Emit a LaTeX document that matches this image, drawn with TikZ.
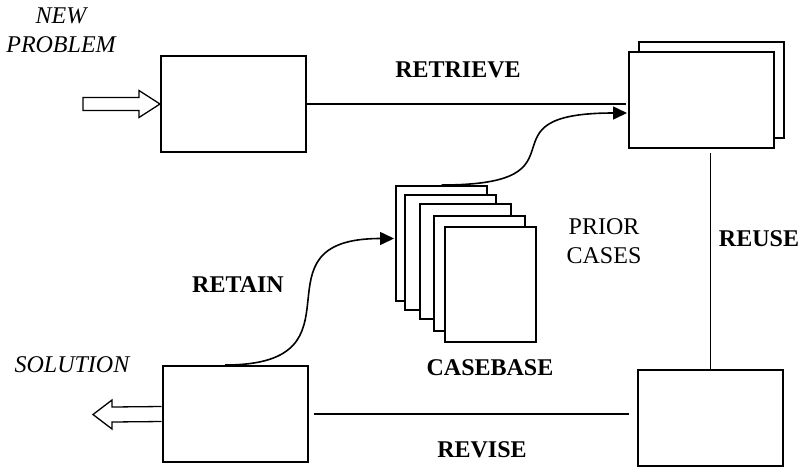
\documentclass[tikz,border=0pt,12pt]{standalone}
\usepackage{fontspec}
\setmainfont{Liberation Serif}
\usetikzlibrary{arrows.meta,calc}

\begin{document}
\begin{tikzpicture}[
  x=0.5pt, y=-0.5pt,
  stage/.style={draw,fill=white,line width=1pt,inner sep=0pt,
                minimum width=72.5pt,minimum height=48pt},
  card/.style={draw,fill=white,line width=1pt,inner sep=0pt,
               minimum width=45.5pt,minimum height=57.5pt},
  arr/.style={-{Triangle[length=7pt,width=6.5pt]},line width=0.8pt},
  link/.style={line width=0.8pt},
  hollow/.style={draw,fill=white,line width=0.65pt,line join=miter},
  steplbl/.style={font=\bfseries},
  note/.style={font=\itshape,align=center},
]
\useasboundingbox (0,0) rectangle (803,468);

%% ---- Stages of the cycle ---------------------------------------------------
\node[stage] (newcase) at (233.5,104) {};
\node[stage] (retrback) at (711.5,90) {};
\node[stage] (retrcase) at (701.5,100) {};
\node[stage] (solvcase) at (710.5,418) {};
\node[stage] (repcase) at (235,414) {};

%% ---- Case base: stack of cards ---------------------------------------------
\foreach \cx/\cy [count=\i] in {441.5/243.5, 450.5/252.5, 465.5/261.5, 479/273.5, 490/284.5}
  \node[card] (card\i) at (\cx,\cy) {};

%% ---- In and out (block arrows) --------------------------------------------
\coordinate (newtail) at (83,104);
\draw[hollow] ($(newtail)+(0,-6.5)$) -- ($(newcase.west)+(-21,-6.5)$)
  -- ($(newcase.west)+(-21,-13.5)$) -- (newcase.west)
  -- ($(newcase.west)+(-21,13.5)$) -- ($(newcase.west)+(-21,6.5)$)
  -- ($(newtail)+(0,6.5)$) -- cycle;

\coordinate (soltip) at (93,414.5);
\draw[hollow] ($(repcase.west)+(0,-7.5)$) -- ($(soltip)+(19,-7.5)$)
  -- ($(soltip)+(19,-14.5)$) -- (soltip)
  -- ($(soltip)+(19,14.5)$) -- ($(soltip)+(19,7.5)$)
  -- ($(repcase.west)+(0,7.5)$);

%% ---- Connectors ------------------------------------------------------------
\draw[link,shorten >=1pt] (newcase.east) -- (newcase.east -| retrcase.west);
\draw[arr] (card1.north) to[out=0,in=180,looseness=2] ($(retrcase.west)+(-1,13)$);
\draw[link,shorten <=2pt] (retrcase.south -| solvcase.north) -- (solvcase.north);
\draw[link,shorten <=4pt,shorten >=2.5pt] (solvcase.west |- repcase.east) -- (repcase.east);
\draw[arr] ($(repcase.north)+(-10,0)$) to[out=0,in=180,looseness=1.8] ($(card1.west)+(-1,-5)$);

%% ---- Labels ----------------------------------------------------------------
\node[note] (newlbl) at (61,30) {NEW\\PROBLEM};
\node[note] (sollbl) at (72,365) {SOLUTION};
\node[steplbl] (retrlbl) at (458,70) {RETRIEVE};
\node[steplbl] (reuselbl) at (759,239) {REUSE};
\node[steplbl] (revlbl) at (482,450) {REVISE};
\node[steplbl] (retlbl) at (238,285) {RETAIN};
\node[steplbl] (cblbl) at (490,368) {CASEBASE};
\node[align=center] (priorlbl) at (604,241) {PRIOR\\CASES};

\end{tikzpicture}
\end{document}
